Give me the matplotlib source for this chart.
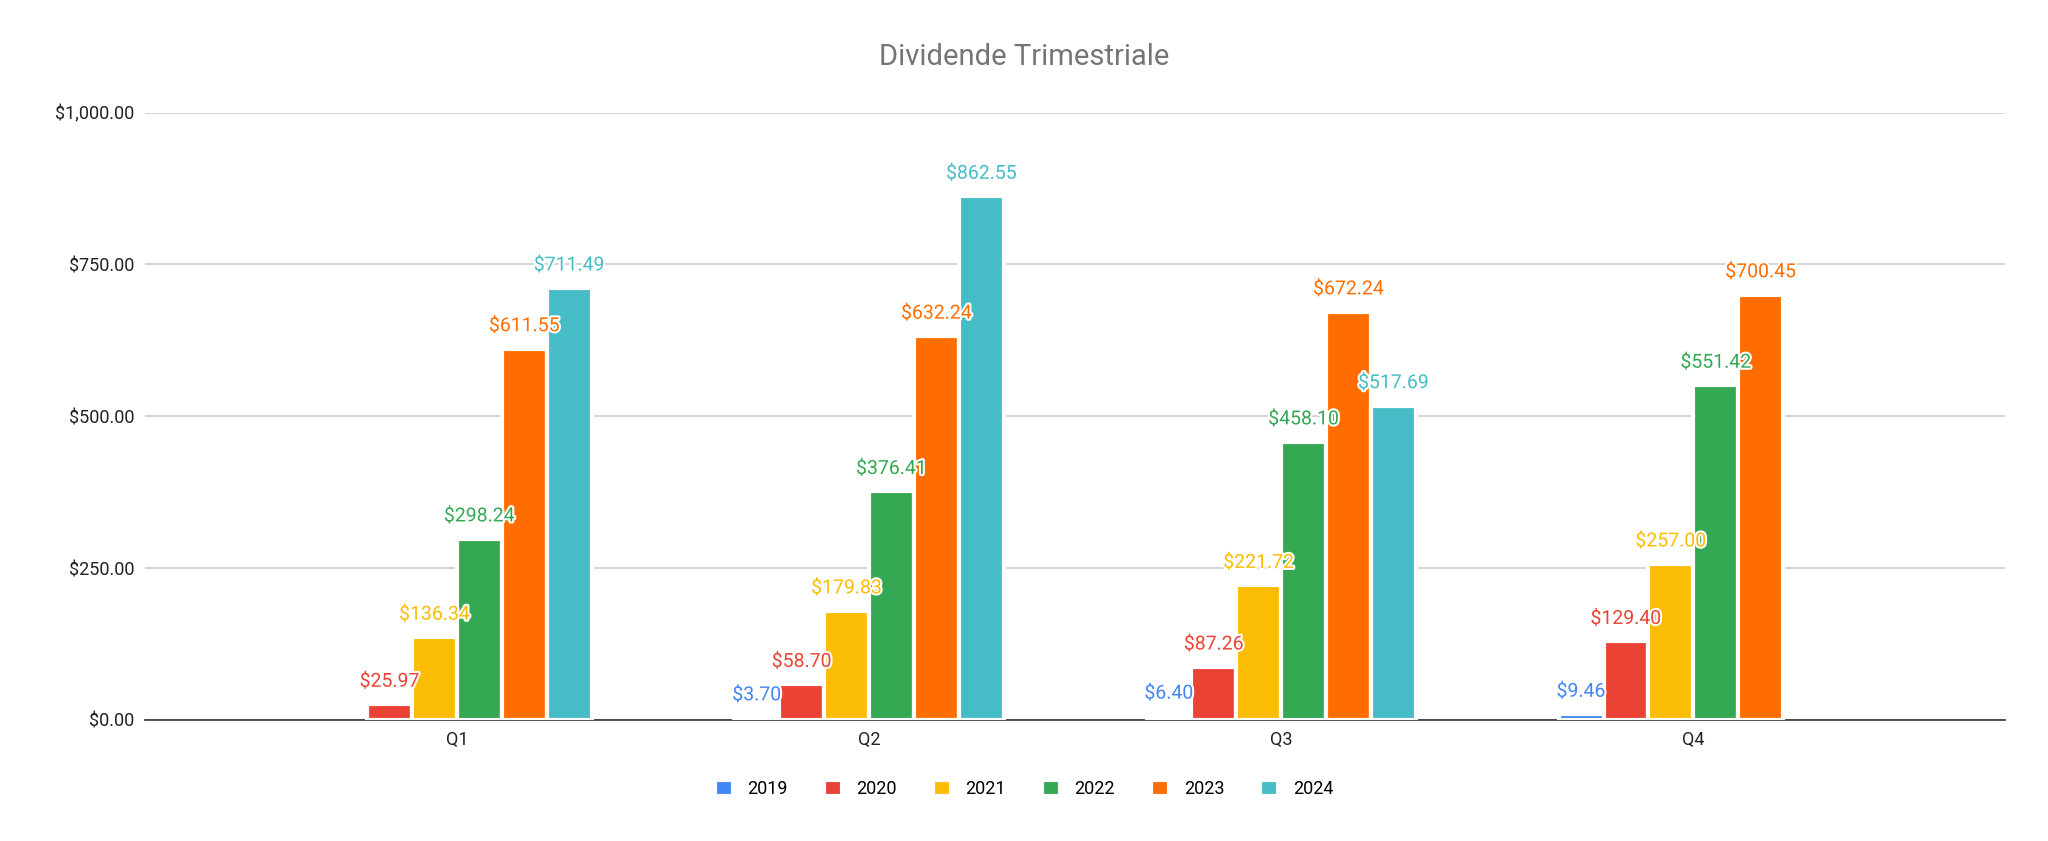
import matplotlib.pyplot as plt
import matplotlib.patheffects as pe
import numpy as np

quarters = ['Q1', 'Q2', 'Q3', 'Q4']
years = ['2019', '2020', '2021', '2022', '2023', '2024']
colors = ['#4285F4', '#EA4335', '#FBBC04', '#34A853', '#FF6D01', '#46BDC6']
values = {
    '2019': [None, 3.70, 6.40, 9.46],
    '2020': [25.97, 58.70, 87.26, 129.40],
    '2021': [136.34, 179.83, 221.72, 257.00],
    '2022': [298.24, 376.41, 458.10, 551.42],
    '2023': [611.55, 632.24, 672.24, 700.45],
    '2024': [711.49, 862.55, 517.69, None],
}

plt.rcParams['font.family'] = ['Roboto', 'DejaVu Sans']
fig = plt.figure(figsize=(20.48, 8.41), dpi=100)
ax = fig.add_axes([0.071, 0.144, 0.908, 0.722])

x = np.arange(len(quarters))
step = 0.109
for i, (y, c) in enumerate(zip(years, colors)):
    for q, v in enumerate(values[y]):
        if v is None:
            continue
        xp = x[q] + (i - 2.5) * step
        ax.bar(xp, v, width=step, color=c, edgecolor='white', linewidth=3,
               label=y if q == 1 else None, zorder=3)
        t = ax.text(xp, v + 22, f'${v:,.2f}', ha='center', va='bottom',
                    color=c, fontsize=14, zorder=4)
        t.set_path_effects([pe.withStroke(linewidth=3, foreground='white')])

ax.set_xlim(-0.756, 3.756)
ax.set_ylim(0, 1000)
ax.set_yticks([0, 250, 500, 750, 1000])
ax.set_yticklabels([f'${v:,.2f}' for v in [0, 250, 500, 750, 1000]])
ax.set_xticks(x)
ax.set_xticklabels(quarters)
ax.tick_params(length=0, labelsize=13, colors='#222222', pad=8)
ax.grid(axis='y', color='#cccccc', linewidth=1.2, zorder=0)
for s in ['top', 'right', 'left']:
    ax.spines[s].set_visible(False)
ax.spines['bottom'].set_color('#333333')
ax.spines['bottom'].set_linewidth(1.2)

fig.text(0.5, 0.932, 'Dividende Trimestriale', ha='center', va='center',
         fontsize=21, color='#757575')
fig.legend(*ax.get_legend_handles_labels(), loc='center', bbox_to_anchor=(0.5, 0.062),
           ncol=6, frameon=False, fontsize=13, handlelength=1, handleheight=1,
           columnspacing=2)

fig.savefig('out.png', dpi=100)
